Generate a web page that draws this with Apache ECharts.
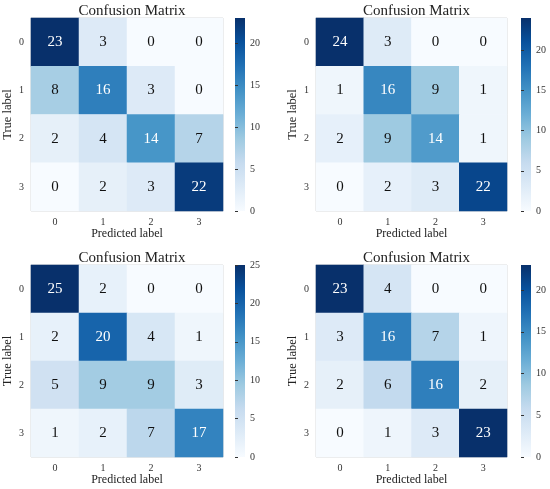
<!DOCTYPE html>
<html>
<head>
<meta charset="utf-8">
<title>Confusion Matrix</title>
<script src="https://cdn.jsdelivr.net/npm/echarts@6/dist/echarts.min.js"></script>
<style>
	html, body { margin: 0; padding: 0; background: #fff; }
	#main { width: 550px; height: 489px; }
</style>
</head>
<body>
<div id="main"></div>
<script>
	// 类别
	var labels = ['0', '1', '2', '3'];
	// 四个混淆矩阵（行 = True label，列 = Predicted label）
	var matrix1 = [[23, 3, 0, 0], [8, 16, 3, 0], [2, 4, 14, 7], [0, 2, 3, 22]];
	var matrix2 = [[24, 3, 0, 0], [1, 16, 9, 1], [2, 9, 14, 1], [0, 2, 3, 22]];
	var matrix3 = [[25, 2, 0, 0], [2, 20, 4, 1], [5, 9, 9, 3], [1, 2, 7, 17]];
	var matrix4 = [[23, 4, 0, 0], [3, 16, 7, 1], [2, 6, 16, 2], [0, 1, 3, 23]];
	// 色条刻度
	var barTicks = [0, 5, 10, 15, 20, 25];

	var blues = ['#f7fbff', '#deebf7', '#c6dbef', '#9ecae1', '#6baed6', '#4292c6', '#2171b5', '#08519c', '#08306b'];
	var font = 'Liberation Serif, Times New Roman, serif';

	// 每个面板的位置
	var panels = [
		{m: matrix1, left: 31, top: 18, w: 192, h: 193, bar: 235},
		{m: matrix2, left: 316, top: 18, w: 191, h: 193, bar: 521},
		{m: matrix3, left: 31, top: 265, w: 192, h: 192, bar: 235},
		{m: matrix4, left: 316, top: 265, w: 191, h: 192, bar: 521}
	];

	// 色条渐变（下浅上深）
	var stops = blues.map(function (c, k) {
		return {offset: 1 - k / (blues.length - 1), color: c};
	});

	var chart = echarts.init(document.getElementById('main'));
	var option = {
		backgroundColor: '#fff',
		animation: false,
		title: [], grid: [], xAxis: [], yAxis: [], visualMap: [], series: [], graphic: []
	};

	panels.forEach(function (p, i) {
		var max = 0, data = [];
		p.m.forEach(function (row) { row.forEach(function (v) { if (v > max) max = v; }); });
		p.m.forEach(function (row, r) {
			row.forEach(function (v, c) {
				data.push({value: [c, r, v], label: {color: v > max / 2 ? '#fff' : '#111'}});
			});
		});
		var ticks = barTicks.filter(function (t) { return t <= max; });

		option.title.push({
			text: 'Confusion Matrix',
			left: p.left + p.w / 2, top: p.top - 19, textAlign: 'center',
			textStyle: {fontFamily: font, fontSize: 15, fontWeight: 'normal', color: '#222'}
		});
		// 矩阵
		option.grid.push({
			left: p.left, top: p.top, width: p.w, height: p.h,
			show: true, borderColor: '#d4d4d4', borderWidth: 1, backgroundColor: 'transparent'
		});
		// 色条刻度用
		option.grid.push({left: p.bar, top: p.top, width: 10, height: p.h});

		option.xAxis.push({
			type: 'category', gridIndex: i * 2, data: labels,
			name: 'Predicted label', nameLocation: 'middle', nameGap: 17,
			nameTextStyle: {fontFamily: font, fontSize: 12, color: '#222'},
			axisLine: {show: false}, axisTick: {show: false}, splitLine: {show: false},
			axisLabel: {fontFamily: font, fontSize: 10, color: '#333', margin: 6}
		});
		option.xAxis.push({type: 'value', gridIndex: i * 2 + 1, show: false});

		option.yAxis.push({
			type: 'category', gridIndex: i * 2, data: labels, inverse: true,
			name: 'True label', nameLocation: 'middle', nameGap: 17,
			nameTextStyle: {fontFamily: font, fontSize: 12.5, color: '#222'},
			axisLine: {show: false}, axisTick: {show: false}, splitLine: {show: false},
			axisLabel: {fontFamily: font, fontSize: 10, color: '#333', margin: 7}
		});
		option.yAxis.push({
			type: 'value', gridIndex: i * 2 + 1, min: 0, max: max, position: 'right',
			axisLine: {show: false}, splitLine: {show: false},
			axisTick: {show: true, length: 3, lineStyle: {color: '#333', width: 1}, customValues: ticks},
			axisLabel: {fontFamily: font, fontSize: 10, color: '#333', margin: 5, customValues: ticks}
		});

		option.visualMap.push({
			type: 'continuous', seriesIndex: i, min: 0, max: max, show: false,
			inRange: {color: blues}
		});

		option.graphic.push({
			type: 'rect', silent: true, z: 0,
			shape: {x: p.bar, y: p.top, width: 10, height: p.h},
			style: {fill: new echarts.graphic.LinearGradient(0, 0, 0, 1, stops)}
		});

		option.series.push({
			type: 'heatmap', xAxisIndex: i * 2, yAxisIndex: i * 2, data: data,
			label: {show: true, fontFamily: font, fontSize: 15},
			itemStyle: {borderWidth: 0}
		});
	});

	chart.setOption(option);
</script>
</body>
</html>
